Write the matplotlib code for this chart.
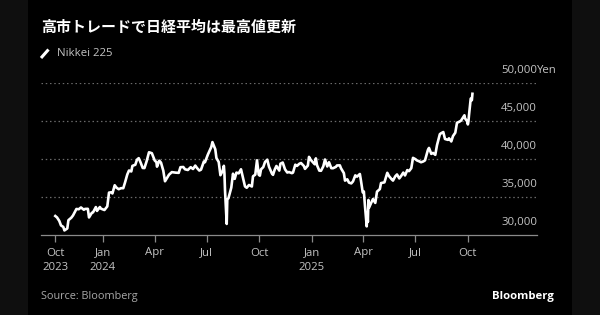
import matplotlib
matplotlib.use("Agg")
import matplotlib.pyplot as plt
import matplotlib.dates as mdates
from matplotlib.lines import Line2D
from matplotlib.patches import Rectangle
import numpy as np

plt.rcParams['font.family'] = ['Open Sans', 'Noto Sans CJK JP', 'DejaVu Sans']

# ---------------- data ----------------
dates = [
 "2023-10-10","2023-10-13","2023-10-17","2023-10-20","2023-10-24","2023-10-26","2023-10-31",
 "2023-11-02","2023-11-07","2023-11-10","2023-11-16","2023-11-20","2023-11-24","2023-11-29",
 "2023-12-01","2023-12-06","2023-12-08","2023-12-13","2023-12-15","2023-12-20","2023-12-22",
 "2023-12-27","2023-12-29",
 "2024-01-04","2024-01-09","2024-01-12","2024-01-16","2024-01-18","2024-01-22","2024-01-25",
 "2024-01-29","2024-02-02","2024-02-06","2024-02-09","2024-02-13","2024-02-16","2024-02-20",
 "2024-02-22","2024-02-27","2024-03-01","2024-03-04","2024-03-07","2024-03-11","2024-03-14",
 "2024-03-18","2024-03-22","2024-03-27","2024-03-29","2024-04-01","2024-04-04","2024-04-05",
 "2024-04-09","2024-04-12","2024-04-16","2024-04-19","2024-04-23","2024-04-26","2024-05-01",
 "2024-05-08","2024-05-13","2024-05-16","2024-05-21","2024-05-24","2024-05-29","2024-06-03",
 "2024-06-07","2024-06-11","2024-06-14","2024-06-18","2024-06-21","2024-06-26","2024-06-28",
 "2024-07-03","2024-07-05","2024-07-09","2024-07-11","2024-07-16","2024-07-18","2024-07-22",
 "2024-07-25","2024-07-29","2024-07-31","2024-08-01","2024-08-02","2024-08-05","2024-08-06",
 "2024-08-08","2024-08-13","2024-08-16","2024-08-19","2024-08-22","2024-08-26","2024-08-30",
 "2024-09-04","2024-09-06","2024-09-09","2024-09-13","2024-09-18","2024-09-20","2024-09-24",
 "2024-09-27","2024-09-30","2024-10-02","2024-10-04","2024-10-08","2024-10-11","2024-10-15",
 "2024-10-18","2024-10-23","2024-10-25","2024-10-28","2024-10-31","2024-11-05","2024-11-07",
 "2024-11-11","2024-11-15","2024-11-19","2024-11-22","2024-11-27","2024-11-29","2024-12-03",
 "2024-12-06","2024-12-10","2024-12-13","2024-12-18","2024-12-20","2024-12-25","2024-12-27",
 "2024-12-30",
 "2025-01-06","2025-01-08","2025-01-10","2025-01-14","2025-01-17","2025-01-21","2025-01-24",
 "2025-01-28","2025-01-31","2025-02-04","2025-02-07","2025-02-12","2025-02-14","2025-02-19",
 "2025-02-21","2025-02-26","2025-02-28","2025-03-04","2025-03-07","2025-03-11","2025-03-14",
 "2025-03-18","2025-03-21","2025-03-26","2025-03-28","2025-03-31","2025-04-02","2025-04-04",
 "2025-04-07","2025-04-08","2025-04-09","2025-04-10","2025-04-11","2025-04-15","2025-04-18",
 "2025-04-22","2025-04-25","2025-04-30","2025-05-02","2025-05-08","2025-05-13","2025-05-16",
 "2025-05-21","2025-05-23","2025-05-27","2025-05-30","2025-06-03","2025-06-06","2025-06-10",
 "2025-06-13","2025-06-17","2025-06-20","2025-06-24","2025-06-27","2025-07-01","2025-07-04",
 "2025-07-08","2025-07-11","2025-07-15","2025-07-18","2025-07-23","2025-07-25","2025-07-29",
 "2025-08-01","2025-08-05","2025-08-08","2025-08-13","2025-08-15","2025-08-19","2025-08-22",
 "2025-08-27","2025-08-29","2025-09-02","2025-09-05","2025-09-09","2025-09-12","2025-09-16",
 "2025-09-19","2025-09-24","2025-09-25","2025-09-26","2025-09-30","2025-10-01","2025-10-02",
 "2025-10-03","2025-10-06","2025-10-07","2025-10-08","2025-10-09",
]
nikkei = [
 32500,32315,31850,31259,31062,30602,30859,
 31950,32272,32568,33424,33388,33625,33321,
 33431,33445,32307,32926,32970,33675,33169,
 33681,33464,
 33288,33763,35577,35619,35466,36546,36236,
 36026,36158,36160,36897,37963,38487,38364,
 39098,39239,39910,40109,39598,38820,38807,
 39740,40888,40762,40369,39803,39580,38992,
 39773,39523,38471,37068,37552,37934,38274,
 38202,38179,38920,38947,38646,38556,38923,
 38683,39134,38815,38482,38596,39667,39583,
 40580,40912,41580,42224,41275,40126,39599,
 37869,38468,39102,38126,35910,31458,34675,
 34831,36232,38062,37389,38211,38110,38648,
 37047,36391,36215,36581,36380,37724,37940,
 39830,37920,37809,38635,38938,39605,39911,
 38982,38105,37914,38605,39081,38474,39381,
 39533,38642,38220,38284,38134,38208,39248,
 39091,39367,39470,39081,38702,39130,40281,
 39894,
 39307,40083,39190,38474,38451,39027,39931,
 39016,39572,38798,38787,38963,39149,39164,
 38777,38142,37156,37331,36887,36793,37053,
 37846,37677,38027,37120,35618,35726,33781,
 31136,33013,31714,34609,33586,34268,34730,
 34221,35705,36045,36831,36928,38183,37754,
 37299,37160,37724,37965,37446,37741,38211,
 37834,38537,38403,38790,40150,39987,39810,
 39689,39570,39678,39819,41171,41456,40675,
 40800,40550,41820,43274,43378,43546,42633,
 42520,42718,42310,43018,43459,44768,44902,
 45046,45630,45754,45355,44932,44550,44936,
 45769,47944,47950,47735,48580,
]
tick_dates = ["2023-10-10","2024-01-01","2024-04-01","2024-07-01","2024-10-01",
              "2025-01-01","2025-04-01","2025-07-01","2025-10-01"]
tick_months = ["Oct","Jan","Apr","Jul","Oct","Jan","Apr","Jul","Oct"]
tick_years = ["2023","2024","","","","2025","","",""]
y_ticks = [30000, 35000, 40000, 45000, 50000]
y_labels = ["30,000", "35,000", "40,000", "45,000", "50,000"]
title = "高市トレードで日経平均は最高値更新"
series_name = "Nikkei 225"
source = "Source: Bloomberg"

# ---------------- figure ----------------
W, H = 600, 315
fig = plt.figure(figsize=(6.0, 3.15), dpi=100, facecolor="black")

def px(x, y):
    return x / W, 1 - y / H

# side panels
for x0, w in [(0, 28), (572, 28)]:
    fig.patches.append(Rectangle((x0 / W, 0), w / W, 1, transform=fig.transFigure,
                                 facecolor="#0f0f0f", edgecolor="none", zorder=0))

ax_l, ax_r, ax_top, ax_bot = 41, 537, 83, 235
ax = fig.add_axes([ax_l / W, 1 - ax_bot / H, (ax_r - ax_l) / W, (ax_bot - ax_top) / H])
ax.set_facecolor("black")

x = np.array(dates, dtype="datetime64[D]").astype("datetime64[s]").astype(object)
x = mdates.date2num(np.array(dates, dtype="datetime64[D]"))
ax.plot(x, nikkei, color="white", lw=1.9, solid_joinstyle="round", zorder=3)

ax.set_xlim(mdates.date2num(np.datetime64("2023-09-15")), mdates.date2num(np.datetime64("2026-01-30")))
ax.set_ylim(30000, 50000)

for s in ["top", "right", "left"]:
    ax.spines[s].set_visible(False)
ax.spines["bottom"].set_color("#8a8a8a")
ax.spines["bottom"].set_linewidth(0.9)

for v in y_ticks[1:]:
    ax.axhline(v, color="#6a6a6a", lw=0.9, ls=(0, (1.2, 2.2)), zorder=1)

tx = mdates.date2num(np.array(tick_dates, dtype="datetime64[D]"))
ax.set_xticks(tx)
ax.set_xticklabels([])
ax.tick_params(axis="x", length=5, width=0.9, color="#8a8a8a", direction="out")
ax.set_yticks([])

lab_color = "#c4c4c4"
for t, m, yv in zip(tx, tick_months, tick_years):
    ax.annotate(m, xy=(t, 30000), xytext=(0, -18), textcoords="offset pixels",
                ha="center", va="center", color=lab_color, fontsize=8.2)
    if yv:
        ax.annotate(yv, xy=(t, 30000), xytext=(0, -33), textcoords="offset pixels",
                    ha="center", va="center", color=lab_color, fontsize=8.2)

for v, lab in zip(y_ticks, y_labels):
    ax.annotate(lab, xy=(1.0, v), xycoords=("axes fraction", "data"), xytext=(0, 12),
                textcoords="offset pixels", ha="right", va="center", color=lab_color, fontsize=8.2)
ax.annotate("Yen", xy=(1.0, y_ticks[-1]), xycoords=("axes fraction", "data"), xytext=(0, 12),
            textcoords="offset pixels", ha="left", va="center", color=lab_color, fontsize=8.2,
            annotation_clip=False)

# title & legend
fig.text(*px(41, 27), title, ha="left", va="center", color="white", fontsize=10.8,
         fontweight="bold", family=["Noto Sans CJK JP", "DejaVu Sans"])
fig.lines.append(Line2D([41 / W, 48.5 / W], [1 - 58 / H, 1 - 49.5 / H], transform=fig.transFigure,
                        color="white", lw=2.2, solid_capstyle="butt"))
fig.text(*px(57, 53.5), series_name, ha="left", va="center", color=lab_color, fontsize=8.2)

fig.text(*px(41, 297), source, ha="left", va="center", color="#a8a8a8", fontsize=7.8)
fig.text(*px(554, 297), "Bloomberg", ha="right", va="center", color="white", fontsize=8.2,
         fontweight="bold")

fig.savefig("out.png", dpi=100, facecolor="black")
